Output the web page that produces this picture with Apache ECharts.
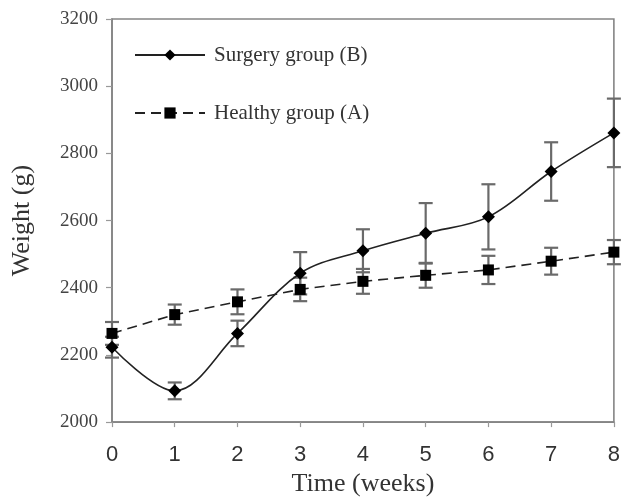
<!DOCTYPE html>
<html>
<head>
<meta charset="utf-8">
<script src="https://cdn.jsdelivr.net/npm/echarts@6/dist/echarts.min.js"></script>
<style>html,body{margin:0;padding:0;background:#fff}#c{width:623px;height:502px}</style>
</head>
<body>
<div id="c"></div>
<script>
var weeks = [0, 1, 2, 3, 4, 5, 6, 7, 8];
var surgeryMean = [2223, 2093, 2264, 2443, 2510, 2562, 2611, 2746, 2861];
var surgerySD = [31, 25, 38, 63, 64, 90, 97, 87, 102];
var healthyMean = [2264, 2320, 2358, 2395, 2419, 2437, 2453, 2479, 2506];
var healthySD = [34, 30, 37, 35, 37, 37, 42, 40, 36];
var surgeryName = 'Surgery group (B)';
var healthyName = 'Healthy group (A)';

function pairs(xs, ys) { return xs.map(function (x, i) { return [x, ys[i]]; }); }
function errRows(xs, m, sd) { return xs.map(function (x, i) { return [x, m[i] - sd[i], m[i] + sd[i]]; }); }

function errorRender(params, api) {
  var x = api.value(0);
  var lo = api.coord([x, api.value(1)]);
  var hi = api.coord([x, api.value(2)]);
  var hw = 7;
  var st = { stroke: '#6a6a6a', lineWidth: 2.2, fill: null };
  return {
    type: 'group',
    children: [
      { type: 'line', shape: { x1: lo[0], y1: lo[1], x2: hi[0], y2: hi[1] }, style: st },
      { type: 'line', shape: { x1: lo[0] - hw, y1: lo[1], x2: lo[0] + hw, y2: lo[1] }, style: st },
      { type: 'line', shape: { x1: hi[0] - hw, y1: hi[1], x2: hi[0] + hw, y2: hi[1] }, style: st }
    ]
  };
}

var chart = echarts.init(document.getElementById('c'), null, { renderer: 'canvas' });
chart.setOption({
  animation: false,
  backgroundColor: '#fff',
  grid: { left: 112, top: 19, right: 7, bottom: 78, show: true, borderColor: '#858585', borderWidth: 1.6, backgroundColor: 'transparent' },
  legend: {
    orient: 'vertical', left: 134, top: 43, padding: 0,
    itemWidth: 70, itemHeight: 14, itemGap: 34,
    data: [surgeryName, healthyName],
    textStyle: { fontFamily: 'Liberation Serif', fontSize: 21, color: '#333', lineHeight: 24, padding: [0, 0, 0, 4] }
  },
  xAxis: {
    type: 'value', min: 0, max: 8, interval: 1,
    name: 'Time (weeks)', nameLocation: 'middle', nameGap: 46,
    nameTextStyle: { fontFamily: 'Liberation Serif', fontSize: 26, color: '#333' },
    axisLine: { lineStyle: { color: '#858585', width: 1.6 } },
    axisTick: { show: true, inside: false, length: 5, lineStyle: { color: '#999', width: 1.2 } },
    axisLabel: { fontFamily: 'Liberation Sans', fontSize: 22, color: '#333', margin: 22 },
    splitLine: { show: false }
  },
  yAxis: {
    type: 'value', min: 2000, max: 3200, interval: 200,
    name: 'Weight (g)', nameLocation: 'middle', nameGap: 77,
    nameTextStyle: { fontFamily: 'Liberation Serif', fontSize: 26, color: '#333' },
    axisLine: { lineStyle: { color: '#858585', width: 1.6 } },
    axisTick: { show: true, inside: false, length: 6, lineStyle: { color: '#999', width: 1.2 } },
    axisLabel: { fontFamily: 'Liberation Serif', fontSize: 19, color: '#444', margin: 14, formatter: function (v) { return String(v); } },
    splitLine: { show: false }
  },
  series: [
    {
      type: 'custom', name: 'errS', renderItem: errorRender, z: 1,
      data: errRows(weeks, surgeryMean, surgerySD), encode: { x: 0, y: [1, 2] }, silent: true
    },
    {
      type: 'custom', name: 'errH', renderItem: errorRender, z: 1,
      data: errRows(weeks, healthyMean, healthySD), encode: { x: 0, y: [1, 2] }, silent: true
    },
    {
      type: 'line', name: surgeryName, data: pairs(weeks, surgeryMean), z: 3,
      smooth: 0.35, symbol: 'diamond', symbolSize: 13, showAllSymbol: true,
      lineStyle: { color: '#222', width: 1.6 },
      itemStyle: { color: '#000' }
    },
    {
      type: 'line', name: healthyName, data: pairs(weeks, healthyMean), z: 3,
      symbol: 'rect', symbolSize: 11, showAllSymbol: true,
      lineStyle: { color: '#222', width: 1.6, type: [10, 6] },
      itemStyle: { color: '#000' }
    }
  ]
});
</script>
</body>
</html>
